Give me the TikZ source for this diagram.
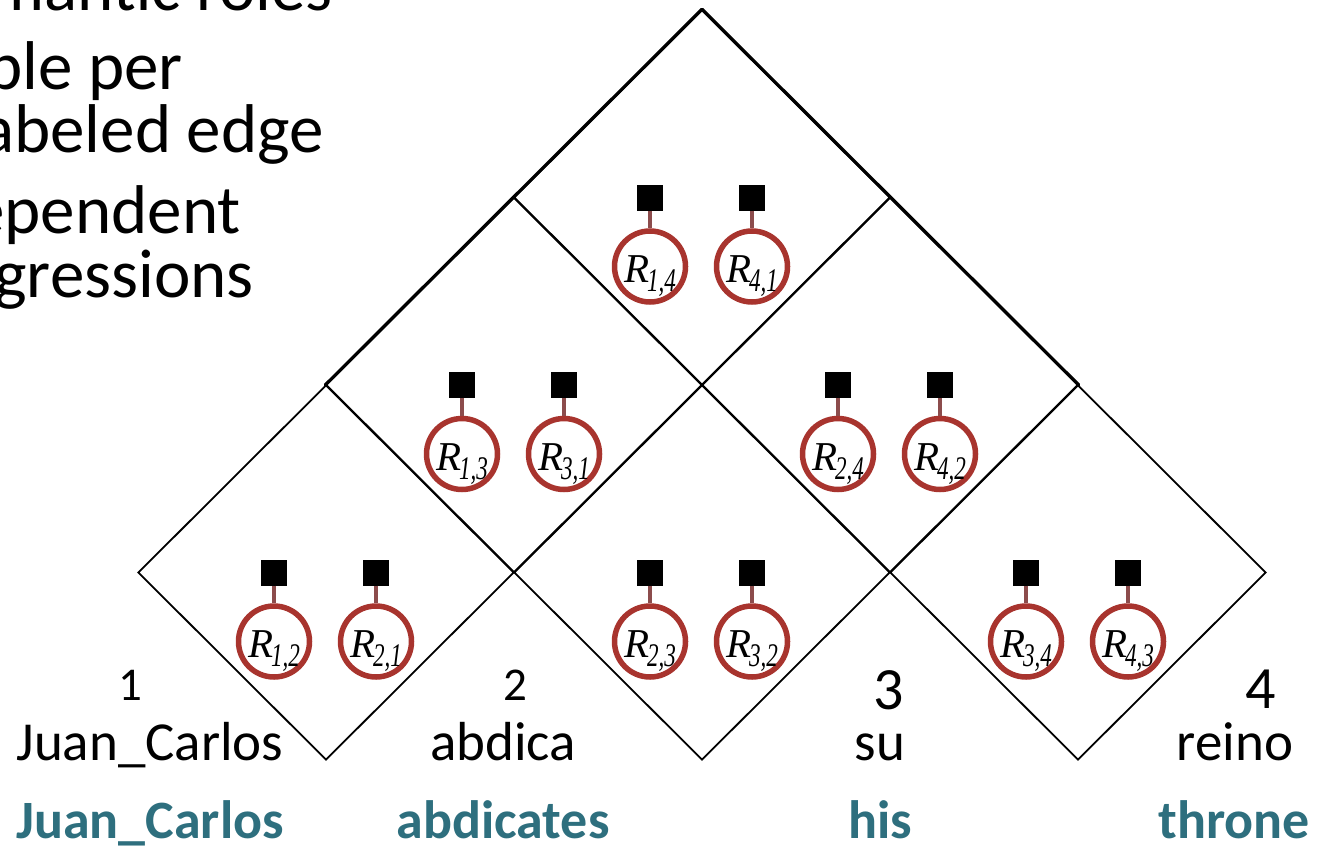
\documentclass[tikz,border=0pt]{standalone}
\usepackage{fontspec}
\setmainfont{Carlito}
\newfontfamily\romanit{Liberation Serif}
\usetikzlibrary{shapes.geometric,calc}
\definecolor{rolered}{RGB}{168,52,46}
\definecolor{tiecol}{RGB}{140,76,76}
\definecolor{glossteal}{RGB}{46,111,126}
% R_{i,j} label: italic R with a lowered, narrow italic index pair
\newcommand\rlab[2]{{\romanit\itshape\fontsize{41}{41}\selectfont R\kern-2pt\raisebox{-9pt}{\fontsize{33}{33}\selectfont\scalebox{0.7}[1]{#1,#2}}}}
\begin{document}
\begin{tikzpicture}[x=1pt,y=-1pt,
  cell/.style={draw,shape=diamond,minimum width=376pt,minimum height=375pt,inner sep=0pt,line width=1.8pt},
  rim/.style={line width=3pt,line cap=round},
  role/.style={draw=rolered,circle,line width=5.5pt,minimum size=71pt,inner sep=0pt},
  factor/.style={fill=black,minimum size=26pt,inner sep=0pt},
  tie/.style={draw=tiecol,line width=4pt},
  rlabel/.style={anchor=base,inner sep=0pt},
  bullet/.style={font=\fontsize{69}{69}\selectfont,anchor=base east,inner sep=0pt},
  word/.style={font=\fontsize{55}{55}\selectfont,anchor=base,inner sep=0pt},
  gloss/.style={font=\bfseries\fontsize{54}{54}\selectfont,text=glossteal,anchor=base,inner sep=0pt},
  numsmall/.style={font=\fontsize{47}{47}\selectfont,anchor=base,inner sep=0pt},
  numlarge/.style={font=\fontsize{60}{60}\selectfont,anchor=base,inner sep=0pt}]
\useasboundingbox (0,0) rectangle (1329,848);
\clip (0,0) rectangle (1329,848);

% left-hand bullet text
\node[bullet] (t0) at (333,11) {mantic roles};
\node[bullet] (t1) at (183,90) {ble per};
\node[bullet] (t2) at (324,152) {abeled edge};
\node[bullet] (t3) at (241,233) {ependent};
\node[bullet] (t4) at (254,297) {gressions};

% lattice of cells, each with two role variables and their factors
\foreach \n/\cx/\cy/\a/\b in {t/702/197.5/1/4, l/514/385/1/3, r/890/385/2/4,
                              a/326/572.5/1/2, b/702/572.5/2/3, c/1078/572.5/3/4} {
  \node[cell] (d\n) at (\cx,\cy) {};
  \node[role] (r\a\b) at (\cx-52,\cy+69) {};
  \node[role] (r\b\a) at (\cx+50,\cy+69) {};
  \node[factor] (f\a\b) at (\cx-52,\cy) {};
  \node[factor] (f\b\a) at (\cx+50,\cy) {};
  \draw[tie] (f\a\b) -- (r\a\b);
  \draw[tie] (f\b\a) -- (r\b\a);
  \node[rlabel] (l\a\b) at ($(r\a\b.center)+(0,16)$) {\rlab{\a}{\b}};
  \node[rlabel] (l\b\a) at ($(r\b\a.center)+(0,16)$) {\rlab{\b}{\a}};
}
\draw[rim] (dt.north) -- (dl.west);
\draw[rim] (dt.north) -- (dr.east);

% word positions
\node[numsmall] (n1) at (130,700) {1};
\node[numsmall] (n2) at (515,700) {2};
\node[numlarge] (n3) at (889,709) {3};
\node[numlarge] (n4) at (1261,708) {4};

\node[word] (w1) at (150,760) {Juan\_Carlos};
\node[word] (w2) at (503,760) {abdica};
\node[word] (w3) at (880,760) {su};
\node[word] (w4) at (1235,760) {reino};

\node[gloss] (g1) at (150,838) {Juan\_Carlos};
\node[gloss] (g2) at (503,838) {abdicates};
\node[gloss] (g3) at (880,838) {his};
\node[gloss] (g4) at (1234,838) {throne};
\end{tikzpicture}
\end{document}
